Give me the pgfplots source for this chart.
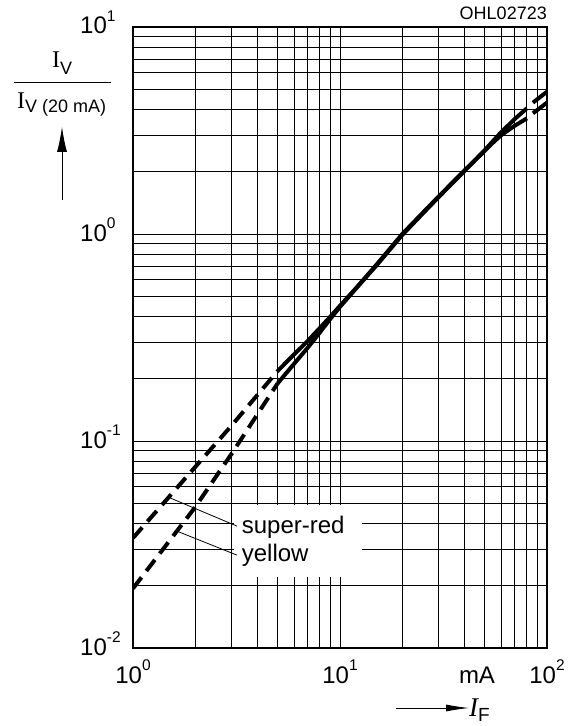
\documentclass[border=0pt]{standalone}
\usepackage{fontspec}
\setmainfont{Liberation Sans}
\newfontfamily\serif{Liberation Serif}
\usepackage{pgfplots}
\pgfplotsset{compat=1.18}
\usetikzlibrary{arrows.meta}

% 10 with a raised exponent, set in the text font
\newcommand{\tpow}[1]{10\raisebox{0.52em}{\fontsize{15.5}{15.5}\selectfont #1}}

\begin{document}
\begin{tikzpicture}[x=1pt,y=1pt]
\useasboundingbox (-133,-78) rectangle (448,648);

\begin{axis}[
    at={(0,0)}, anchor=south west,
    scale only axis, width=414pt, height=621pt,
    xmode=log, ymode=log,
    xmin=1, xmax=100, ymin=0.01, ymax=10,
    xtick={1,10,100},
    ytick={0.01,0.1,1,10},
    xticklabels={\tpow{0},\tpow{1},\tpow{2}},
    yticklabels={\tpow{-2},\tpow{-1},\tpow{0},\tpow{1}},
    minor xtick={2,3,4,5,6,7,8,9,20,30,40,50,60,70,80,90},
    minor ytick={0.02,0.03,0.04,0.05,0.06,0.07,0.08,0.09,
                 0.2,0.3,0.4,0.5,0.6,0.7,0.8,0.9,
                 2,3,4,5,6,7,8,9},
    grid=both,
    major grid style={black, line width=0.95pt},
    minor grid style={black, line width=1.05pt},
    major tick length=0pt, minor tick length=0pt,
    axis line style={black, line width=1.1pt},
    tick label style={font=\fontsize{24}{24}\selectfont, inner sep=0pt},
    xticklabel style={anchor=base, yshift=-35pt},
    yticklabel style={anchor=base west, xshift=-53pt, yshift=-7pt},
]

% white gap in the grid behind the curve names
\fill[white] (axis cs:3.06,0.0491) rectangle (axis cs:12.77,0.0220);

% super-red
\addplot[black, line width=4pt, dash pattern=on 14pt off 8pt] coordinates
  {(1,0.034)(2,0.075)(3,0.119)(5,0.218)};
\addplot[black, line width=4pt] coordinates
  {(5,0.218)(6,0.262)(7,0.305)(8,0.352)(9,0.400)(10,0.450)(12,0.550)
   (15,0.710)(20,1.00)(25,1.26)(30,1.52)(40,2.03)(50,2.52)(55,2.77)
   (60,3.00)(70,3.34)(80,3.62)};
\addplot[black, line width=4pt] coordinates {(85.5,3.83)(100,4.31)};

% yellow
\addplot[black, line width=4pt, dash pattern=on 14pt off 8pt] coordinates
  {(1,0.0194)(2,0.048)(3,0.087)(5,0.190)};
\addplot[black, line width=4pt] coordinates
  {(5,0.190)(6,0.236)(7,0.283)(8,0.335)(9,0.390)(10,0.445)(12,0.548)
   (15,0.705)(20,0.99)(25,1.25)(30,1.51)(40,2.02)(50,2.54)(55,2.82)
   (60,3.10)(70,3.60)(80,4.05)};
\addplot[black, line width=4pt] coordinates {(85.5,4.31)(100,4.87)};

% curve names with leader lines
\draw[black, line width=0.8pt] (axis cs:1.51,0.0531) -- (axis cs:3.18,0.0388);
\draw[black, line width=0.8pt] (axis cs:1.63,0.0367) -- (axis cs:3.18,0.0281);
\node[anchor=base west, inner sep=0pt, font=\fontsize{24}{24}\selectfont]
  at (axis cs:3.35,0.0359) {super-red};
\node[anchor=base west, inner sep=0pt, font=\fontsize{24}{24}\selectfont]
  at (axis cs:3.35,0.0261) {yellow};

\end{axis}

% code of the diagram
\node[anchor=base east, inner sep=0pt, font=\fontsize{18}{18}\selectfont]
  at (414,628) {OHL02723};

% x axis unit and quantity
\node[anchor=base, inner sep=0pt, font=\fontsize{24}{24}\selectfont]
  at (344,-35) {mA};
\draw[line width=0.8pt, -{Latex[length=23pt,width=7pt]}] (263,-60) -- (336,-60);
\node[anchor=base west, inner sep=0pt] at (336,-68)
  {{\fontsize{27}{27}\selectfont\serif\itshape I}\raisebox{-5.7pt}{\fontsize{19}{19}\selectfont F}};

% y axis quantity
\node[anchor=base west, inner sep=0pt] at (-81,580)
  {{\fontsize{24}{24}\selectfont\serif I}\raisebox{-6.5pt}{\fontsize{18}{18}\selectfont V}};
\draw[line width=0.9pt] (-119,566) -- (-22,566);
\node[anchor=base west, inner sep=0pt] at (-116,539.7)
  {{\fontsize{24}{24}\selectfont\serif I}\raisebox{-4.5pt}{\fontsize{18}{18}\selectfont V (20 mA)}};
\draw[line width=0.8pt, -{Latex[length=25pt,width=10pt]}] (-71,448) -- (-71,521);

\end{tikzpicture}
\end{document}
